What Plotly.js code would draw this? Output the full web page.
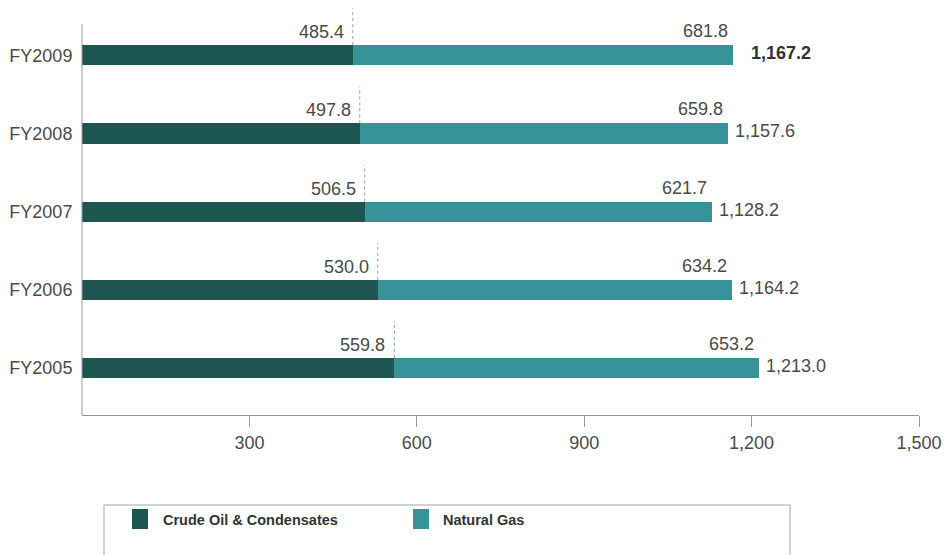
<!DOCTYPE html>
<html>
<head>
<meta charset="utf-8">
<script src="https://cdn.plot.ly/plotly-3.0.1.min.js"></script>
<style>
  html, body { margin: 0; padding: 0; background: #fff; }
  #chart { width: 946px; height: 555px; }
</style>
</head>
<body>
<div id="chart"></div>
<script>
// Production by fiscal year (bottom to top)
const years = ['FY2005', 'FY2006', 'FY2007', 'FY2008', 'FY2009'];
const crudeOil = [559.8, 530.0, 506.5, 497.8, 485.4];
const naturalGas = [653.2, 634.2, 621.7, 659.8, 681.8];
const seriesNames = ['Crude Oil & Condensates', 'Natural Gas'];
const seriesColors = ['#1d5551', '#37939a'];
const xTickVals = [300, 600, 900, 1200, 1500];
const boldTotalYear = 'FY2009';

const fmt = v => v.toLocaleString('en-US', {minimumFractionDigits: 1, maximumFractionDigits: 1});
const totals = crudeOil.map((c, i) => Math.round((c + naturalGas[i]) * 10) / 10);

const labelFont = {family: 'Liberation Sans, Arial, sans-serif', size: 18, color: '#4a4a4a'};
const barWidth = 0.26;
const yLow = -0.6, yTop = 4.4;

const traces = [
  {
    type: 'bar', orientation: 'h', name: seriesNames[0],
    y: years, x: crudeOil, width: barWidth,
    marker: {color: seriesColors[0]}, hoverinfo: 'skip'
  },
  {
    type: 'bar', orientation: 'h', name: seriesNames[1],
    y: years, x: naturalGas, width: barWidth,
    marker: {color: seriesColors[1]}, hoverinfo: 'skip'
  }
];

const annotations = [];
const shapes = [];

years.forEach((yr, i) => {
  // crude oil value, left of the split marker
  annotations.push({
    x: crudeOil[i], y: i, xref: 'x', yref: 'y',
    text: fmt(crudeOil[i]), showarrow: false,
    xanchor: 'right', yanchor: 'middle', xshift: -7, yshift: 23,
    font: labelFont
  });
  // natural gas value, right-aligned at the bar end
  annotations.push({
    x: totals[i], y: i, xref: 'x', yref: 'y',
    text: fmt(naturalGas[i]), showarrow: false,
    xanchor: 'right', yanchor: 'middle', xshift: -3, yshift: 24,
    font: labelFont
  });
  // total beside the bar
  const bold = yr === boldTotalYear;
  annotations.push({
    x: totals[i], y: i, xref: 'x', yref: 'y',
    text: bold ? '<b>' + fmt(totals[i]) + '</b>' : fmt(totals[i]),
    showarrow: false, xanchor: 'left', yanchor: 'middle',
    xshift: bold ? 16 : 5, yshift: 2,
    font: Object.assign({}, labelFont, bold ? {color: '#333'} : {})
  });
  // dotted marker at the crude/gas split
  shapes.push({
    type: 'line', xref: 'x', yref: 'y',
    x0: crudeOil[i], x1: crudeOil[i],
    y0: i + barWidth / 2, y1: i + barWidth / 2 + 0.47,
    line: {color: '#9a9a9a', width: 1, dash: 'dot'}
  });
});

// left axis line
shapes.push({
  type: 'line', xref: 'paper', yref: 'y',
  x0: 0, x1: 0, y0: yLow, y1: yTop,
  line: {color: '#999', width: 1}
});

// legend box below the chart
const plotL = 82, plotW = 837, plotB = 415, plotTop = 5;
const plotH = plotB - plotTop;
const px = x => (x - plotL) / plotW;
const py = y => (plotB - y) / plotH;

shapes.push({
  type: 'rect', xref: 'paper', yref: 'paper',
  x0: px(104), x1: px(790), y0: py(505), y1: py(570),
  line: {color: '#93aaa8', width: 1}, fillcolor: 'rgba(0,0,0,0)'
});
const legendItems = [
  {sq: 132, text: 161},
  {sq: 413, text: 441}
];
legendItems.forEach((it, k) => {
  shapes.push({
    type: 'rect', xref: 'paper', yref: 'paper',
    x0: px(it.sq), x1: px(it.sq + 16), y0: py(509), y1: py(529),
    line: {width: 0}, fillcolor: seriesColors[k]
  });
  annotations.push({
    x: px(it.text), y: py(520), xref: 'paper', yref: 'paper',
    text: '<b>' + seriesNames[k] + '</b>', showarrow: false,
    xanchor: 'left', yanchor: 'middle',
    font: {family: 'Liberation Sans, Arial, sans-serif', size: 14.5, color: '#333'}
  });
});

const layout = {
  width: 946, height: 555,
  margin: {l: plotL, r: 946 - plotL - plotW, t: plotTop, b: 555 - plotB, pad: 0},
  paper_bgcolor: '#fff', plot_bgcolor: '#fff',
  barmode: 'stack', showlegend: false, bargap: 0,
  font: labelFont,
  xaxis: {
    range: [0, 1500], tickvals: xTickVals,
    ticktext: xTickVals.map(v => v.toLocaleString('en-US')),
    showgrid: false, zeroline: false,
    showline: true, linecolor: '#999', linewidth: 1,
    ticks: 'outside', ticklen: 11, tickcolor: '#999', tickwidth: 1,
    tickfont: labelFont, fixedrange: true
  },
  yaxis: {
    type: 'category', categoryarray: years, range: [yLow, yTop + 0.243],
    showgrid: false, zeroline: false, showline: false,
    ticks: 'outside', ticklen: 5, tickcolor: 'rgba(0,0,0,0)',
    tickfont: labelFont, fixedrange: true
  },
  annotations: annotations,
  shapes: shapes
};

Plotly.newPlot('chart', traces, layout, {displayModeBar: false, staticPlot: true});
</script>
</body>
</html>
